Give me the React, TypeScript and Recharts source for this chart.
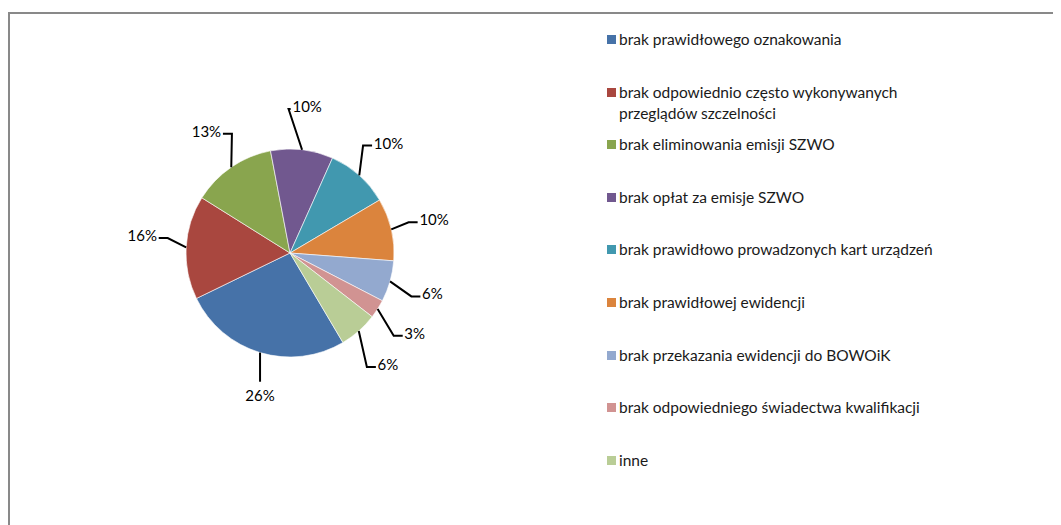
import React from "react";
import { PieChart, Pie, Cell } from "recharts";

// ============================================================
// Pie chart - types of irregularities (share of all findings)
// ============================================================

const categories = [
  "brak prawidłowego oznakowania",
  "brak odpowiednio często wykonywanych\nprzeglądów szczelności",
  "brak eliminowania emisji SZWO",
  "brak opłat za emisje SZWO",
  "brak prawidłowo prowadzonych kart urządzeń",
  "brak prawidłowej ewidencji",
  "brak przekazania ewidencji do BOWOiK",
  "brak odpowiedniego świadectwa kwalifikacji",
  "inne",
];

const shares = [26.3, 16.1, 13.1, 9.7, 9.8, 9.7, 6.4, 2.9, 6.0];

const colors = [
  "#4672A8",
  "#A9473F",
  "#89A54E",
  "#71588F",
  "#4198AF",
  "#DB843D",
  "#93A9CF",
  "#D19392",
  "#B9CD96",
];

const data = categories.map((name, i) => ({ name, value: shares[i] }));

const FONT = "Lato, 'Open Sans', sans-serif";
const RAD = Math.PI / 180;

function SliceLabel(props: any) {
  const { cx, cy, midAngle, outerRadius, percent } = props;
  const text = `${Math.round(percent * 100)}%`;
  const dx = Math.cos(-midAngle * RAD);
  const dy = Math.sin(-midAngle * RAD);
  const px = cx + outerRadius * dx;
  const py = cy + outerRadius * dy;
  const tr = outerRadius + 44;
  const tx = cx + tr * dx;
  const ty = cy + tr * dy - (dx < -0.9 ? 10 : 0);
  const w = text.length * 9;

  // near the bottom: straight vertical leader, text underneath
  if (Math.abs(dx) < 0.35 && dy > 0) {
    return (
      <g>
        <polyline points={`${px},${py} ${px},${ty - 13}`} fill="none" stroke="#000" strokeWidth={2} />
        <text x={px} y={ty} textAnchor="middle" dominantBaseline="central" fontSize={15} fill="#000" fontFamily={FONT}>
          {text}
        </text>
      </g>
    );
  }

  const side = dx >= 0 ? 1 : -1;
  const hx = tx - side * (w / 2 + 3);
  const ex = hx - side * 9 * Math.min(1, Math.abs(dx) / 0.5);
  const ly = ty + 3;
  return (
    <g>
      <polyline points={`${px},${py} ${ex},${ly} ${hx},${ly}`} fill="none" stroke="#000" strokeWidth={2} />
      <text x={tx} y={ty} textAnchor="middle" dominantBaseline="central" fontSize={15} fill="#000" fontFamily={FONT}>
        {text}
      </text>
    </g>
  );
}

function LegendList() {
  return (
    <div
      style={{
        position: "absolute",
        left: 597,
        top: 15,
        fontFamily: FONT,
        fontSize: 15.5,
        color: "#1a1a1a",
      }}
    >
      {categories.map((name, i) => (
        <div key={name} style={{ height: 52.6, display: "flex", alignItems: "flex-start" }}>
          <span
            style={{
              display: "inline-block",
              width: 9,
              height: 9,
              background: colors[i],
              marginTop: 6,
              marginRight: 3,
              flexShrink: 0,
            }}
          />
          <span style={{ whiteSpace: "pre-line", lineHeight: "21px" }}>{name}</span>
        </div>
      ))}
    </div>
  );
}

export default function App() {
  return (
    <div
      style={{
        position: "relative",
        marginTop: 4,
        width: 1053,
        height: 513,
        borderTop: "2px solid #898989",
        borderLeft: "2px solid #898989",
        background: "#fff",
        boxSizing: "border-box",
        overflow: "hidden",
      }}
    >
      <PieChart width={1051} height={511} margin={{ top: 0, right: 0, bottom: 0, left: 0 }}>
        <Pie
          data={data}
          dataKey="value"
          nameKey="name"
          cx={280}
          cy={239}
          outerRadius={104}
          startAngle={-59.4}
          endAngle={-419.4}
          stroke="#ffffff"
          strokeWidth={0.6}
          label={<SliceLabel />}
          labelLine={false}
          isAnimationActive={false}
        >
          {data.map((entry, i) => (
            <Cell key={entry.name} fill={colors[i]} />
          ))}
        </Pie>
      </PieChart>
      <LegendList />
    </div>
  );
}
